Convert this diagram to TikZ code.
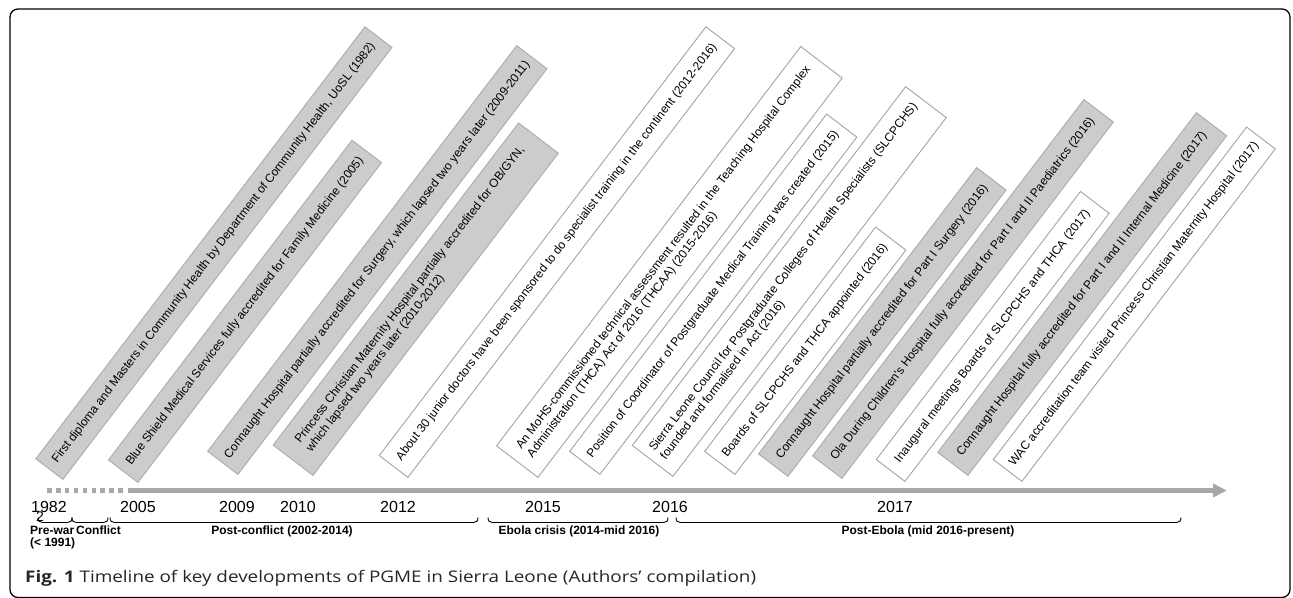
\documentclass[tikz,border=0pt]{standalone}
\usepackage{fontspec}
\setmainfont{Liberation Sans}
\newfontfamily\capfont[FakeStretch=1.18]{Open Sans}
\usetikzlibrary{arrows.meta}
\definecolor{boxgray}{HTML}{CCCCCC}
\definecolor{grayedge}{HTML}{ABABAB}
\definecolor{whiteedge}{HTML}{A3A3A3}
\definecolor{axisgray}{HTML}{A8A8A8}
\newcommand\evfont{\fontsize{12}{14}\selectfont}
\newcommand\yrfont{\fontsize{16}{18}\selectfont}
\newcommand\perfont{\bfseries\fontsize{12}{12}\selectfont}
\begin{document}
\begin{tikzpicture}[x=1pt,y=-1pt,
  ev/.style={line width=0.9pt, rotate=52.7, anchor=south west, inner xsep=4pt, inner ysep=1pt,
    font=\evfont, align=left, minimum height=37pt},
  evg/.style={ev, fill=boxgray, draw=grayedge},
  evw/.style={ev, fill=white, draw=whiteedge},
  two/.style={minimum height=51pt},
  yr/.style={anchor=base, font=\yrfont, inner sep=0pt},
  per/.style={anchor=base, font=\perfont, inner sep=0pt},
  brace/.style={line width=0.9pt, black},
  axis/.style={axisgray, line width=4.3pt}]
\useasboundingbox (0,0) rectangle (1293,597);
% frame
\draw[line width=1.3pt, rounded corners=8pt] (10,9) rectangle (1290,597.5);

% events
\node[evg, minimum width=543pt, minimum height=34pt] (b1) at (63,480) {First diploma and Masters in Community Health by Department of Community Health, UoSL (1982)};
\node[evg, minimum width=402pt] (b2) at (138,483) {Blue Shield Medical Services fully accredited for Family Medicine (2005)};
\node[evg, minimum width=510pt, minimum height=38pt] (b3) at (238,475) {Connaught Hospital partially accredited for Surgery, which lapsed two years later (2009-2011)};
\node[evg, two, minimum width=405pt, minimum height=50pt] (b4) at (313,476) {Princess Christian Maternity Hospital partially accredited for OB/GYN,\\which lapsed two years later (2010-2012)};
\node[evw, minimum width=539pt, minimum height=36pt] (b5) at (408,478) {About 30 junior doctors have been sponsored to do specialist training in the continent (2012-2016)};
\node[evw, two, minimum width=502pt, minimum height=52pt] (b6) at (538,478) {An MoHS-commissioned technical assessment resulted in the Teaching Hospital Complex\\Administration (THCA) Act of 2016 (THCAA) (2015-2016)};
\node[evw, minimum width=424pt, minimum height=38pt] (b7) at (600,475) {Position of Coordinator of Postgraduate Medical Training was created (2015)};
\node[evw, two, minimum width=451pt] (b8) at (673,477) {Sierra Leone Council for Postgraduate Colleges of Health Specialists (SLCPCHS)\\founded and formalised in Act (2016)};
\node[evw, minimum width=282pt, minimum height=38pt] (b9) at (735,475) {Boards of SLCPCHS and THCA appointed (2016)};
\node[evg, minimum width=360pt] (b10) at (788,477) {Connaught Hospital partially accredited for Part I Surgery (2016)};
\node[evg, minimum width=448pt] (b11) at (842,479) {Ola During Children’s Hospital fully accredited for Part I and II Paediatrics (2016)};
\node[evw, minimum width=337pt, minimum height=36pt] (b12) at (905,482) {Inaugural meetings Boards of SLCPCHS and THCA (2017)};
\node[evg, minimum width=427pt, minimum height=38pt] (b13) at (968,476) {Connaught Hospital fully accredited for Part I and II Internal Medicine (2017)};
\node[evw, minimum width=418pt, minimum height=36pt] (b14) at (1022,482) {WAC accreditation team visited Princess Christian Maternity Hospital (2017)};

% axis
\coordinate (a0) at (47,490.5);
\coordinate (a1) at (123,490.5);
\coordinate (a2) at (128,490.5);
\coordinate (aend) at (1227,490.5);
\draw[axis, dash pattern=on 4.6pt off 4.3pt] (a0) -- (a1);
\draw[axis, -{Triangle[length=14pt,width=13pt]}] (a2) -- (aend);

% years
\node[yr] (y1982) at (49,512) {1982};
\node[yr] (y2005) at (138,512) {2005};
\node[yr] (y2009) at (237,512) {2009};
\node[yr] (y2010) at (298,512) {2010};
\node[yr] (y2012) at (398,512) {2012};
\node[yr] (y2015) at (543,512) {2015};
\node[yr] (y2016) at (670,512) {2016};
\node[yr] (y2017) at (895,512) {2017};

% braces
\foreach \xa/\xb in {38/72, 72/108, 110/478, 488/668, 676/1181}{
  \draw[brace] (\xa,517.5) .. controls (\xa,521) and (\xa+1.5,522.5) .. (\xa+4.5,522.5)
    -- (\xb-4.5,522.5) .. controls (\xb-1.5,522.5) and (\xb,521) .. (\xb,517.5);
}
\node[anchor=base, font=\fontsize{14}{14}\selectfont, inner sep=0pt] (two) at (40,521) {2};

% periods
\node[per, anchor=base west] (p1) at (30,534) {Pre-war};
\node[per, anchor=base west] (p1b) at (30,546) {(< 1991)};
\node[per, anchor=base west] (p2) at (76,534) {Conflict};
\node[per] (p3) at (282,534) {Post-conflict (2002-2014)};
\node[per] (p4) at (579,534) {Ebola crisis (2014-mid 2016)};
\node[per] (p5) at (928,534) {Post-Ebola (mid 2016-present)};

% caption
\node[anchor=base west, inner sep=0pt, font=\capfont\fontsize{16}{18}\selectfont, text=black!85] (cap) at (25,582)
  {\textbf{Fig. 1} Timeline of key developments of PGME in Sierra Leone (Authors’ compilation)};
\end{tikzpicture}
\end{document}
